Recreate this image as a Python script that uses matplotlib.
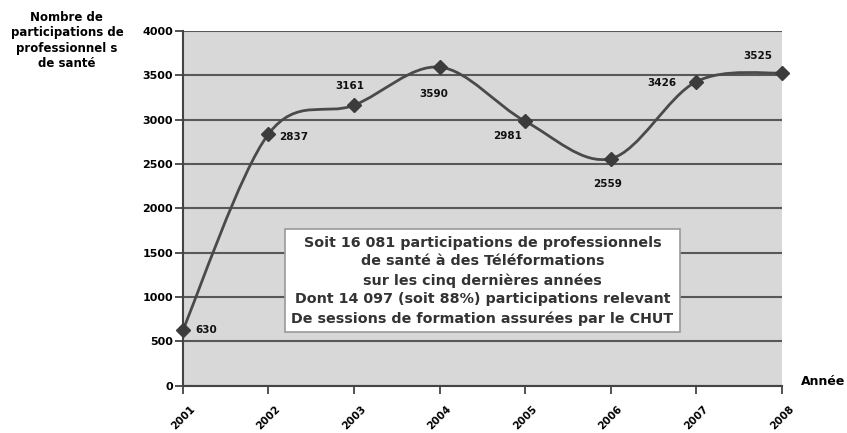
import numpy as np
import matplotlib.pyplot as plt
from matplotlib.path import Path
from matplotlib.patches import PathPatch

# data
annees = [2001, 2002, 2003, 2004, 2005, 2006, 2007, 2008]
participations = [630, 2837, 3161, 3590, 2981, 2559, 3426, 3525]
# offset of each value label from its point, in points
label_off = [(17, 0), (18, -2), (-3, 14), (-4, -19),
             (-13, -11), (-2, -18), (-25, -1), (-17, 12)]
yticks = [0, 500, 1000, 1500, 2000, 2500, 3000, 3500, 4000]
encadre = ("Soit 16 081 participations de professionnels\n"
           "de santé à des Téléformations\n"
           "sur les cinq dernières années\n"
           "Dont 14 097 (soit 88%) participations relevant\n"
           "De sessions de formation assurées par le CHUT")

fig = plt.figure(figsize=(8.47, 4.33), dpi=100)
ax = fig.add_axes([0.216, 0.109, 0.707, 0.820])
ax.set_facecolor('#d8d8d8')
ax.set_xlim(2001, 2008)
ax.set_ylim(0, 4000)

for y in yticks:
    ax.axhline(y, color='#585858', lw=1.5, zorder=1)

# smoothed line (Excel-like bezier through the points)
x = np.array(annees, dtype=float)
y = np.array(participations, dtype=float)
verts = [(x[0], y[0])]
codes = [Path.MOVETO]
n = len(x)
for i in range(n - 1):
    p0 = (x[max(i - 1, 0)], y[max(i - 1, 0)])
    p1 = (x[i], y[i])
    p2 = (x[i + 1], y[i + 1])
    p3 = (x[min(i + 2, n - 1)], y[min(i + 2, n - 1)])
    c1 = (p1[0] + (p2[0] - p0[0]) / 6, p1[1] + (p2[1] - p0[1]) / 6)
    c2 = (p2[0] - (p3[0] - p1[0]) / 6, p2[1] - (p3[1] - p1[1]) / 6)
    verts += [c1, c2, p2]
    codes += [Path.CURVE4] * 3
ax.add_patch(PathPatch(Path(verts, codes), fill=False, edgecolor='#4a4a4a',
                       lw=2, zorder=3, clip_on=False))
ax.plot(annees, participations, ls='none', marker='D', ms=7.5,
        color='#3c3c3c', zorder=4, clip_on=False)

for xv, yv, (dx, dy) in zip(annees, participations, label_off):
    ax.annotate(str(yv), (xv, yv), xytext=(dx, dy), textcoords='offset points',
                ha='center', va='center', fontsize=7.5, fontweight='bold',
                color='#111111', zorder=5)

ax.text(0.50, 0.296, encadre, transform=ax.transAxes, ha='center', va='center',
        fontsize=10.3, fontweight='bold', color='#333333', linespacing=1.42,
        bbox=dict(boxstyle='square,pad=0.45', fc='white', ec='#999999', lw=1.2),
        zorder=6)

ax.set_yticks(yticks)
ax.set_yticklabels([str(v) for v in yticks], fontsize=8, fontweight='bold')
ax.set_xticks(annees)
ax.set_xticklabels([str(a) for a in annees], rotation=45, ha='center',
                   fontsize=7.5, fontweight='bold')
ax.tick_params(axis='both', direction='out', length=6, width=1.3,
               color='#444444')
ax.tick_params(axis='y', pad=1)
ax.tick_params(axis='x', pad=7)

for side in ['top', 'right']:
    ax.spines[side].set_visible(False)
ax.spines['left'].set_color('#444444')
ax.spines['left'].set_linewidth(1.5)
ax.spines['bottom'].set_color('#444444')
ax.spines['bottom'].set_linewidth(1.5)

fig.text(0.079, 0.975, "Nombre de\nparticipations de\nprofessionnel s\nde santé",
         ha='center', va='top', fontsize=8.5, fontweight='bold', linespacing=1.25)
fig.text(0.972, 0.118, "Année", ha='center', va='center', fontsize=9,
         fontweight='bold')

fig.savefig('out.png', dpi=100)
